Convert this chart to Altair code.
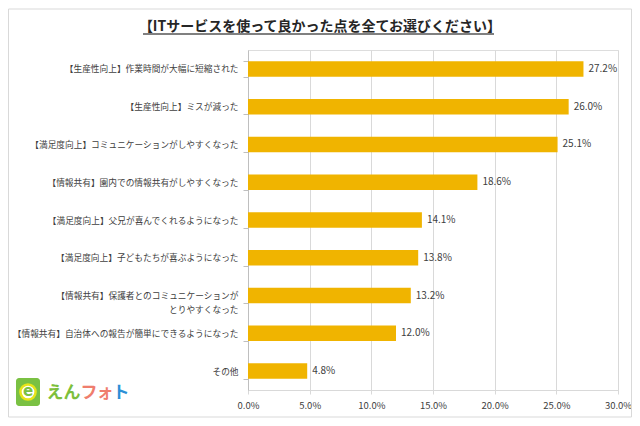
import altair as alt
import pandas as pd

title_text = "【ITサービスを使って良かった点を全てお選びください】"
categories = [
    "【生産性向上】作業時間が大幅に短縮された",
    "【生産性向上】ミスが減った",
    "【満足度向上】コミュニケーションがしやすくなった",
    "【情報共有】園内での情報共有がしやすくなった",
    "【満足度向上】父兄が喜んでくれるようになった",
    "【満足度向上】子どもたちが喜ぶようになった",
    "【情報共有】保護者とのコミュニケーションが\nとりやすくなった",
    "【情報共有】自治体への報告が簡単にできるようになった",
    "その他",
]
values = [27.2, 26.0, 25.1, 18.6, 14.1, 13.8, 13.2, 12.0, 4.8]
x_ticks = [0, 5, 10, 15, 20, 25, 30]

logo_chars = ["え", "ん", "フ", "ォ", "ト"]
logo_colors = ["#7dbf3c", "#7dbf3c", "#ef7d6d", "#ef7d6d", "#2b8fd6"]
logo_px = [-193, -176, -159, -143, -127]

JP = "Noto Sans CJK JP"
BAR = "#F0B400"

df = pd.DataFrame({"cat": categories, "val": values})

base = alt.Chart(df)

y_enc = alt.Y(
    "cat:N",
    sort=None,
    title=None,
    scale=alt.Scale(paddingInner=0.59, paddingOuter=0.295),
    axis=alt.Axis(
        labelExpr="split(datum.label, '\\n')",
        labelFont=JP,
        labelFontSize=8.7,
        labelColor="#404040",
        labelLimit=300,
        labelPadding=5,
        labelLineHeight=14,
        tickBand="extent",
        tickSize=5,
        tickColor="#bfbfbf",
        domainColor="#bfbfbf",
        grid=False,
    ),
)

x_enc = alt.X(
    "val:Q",
    title=None,
    scale=alt.Scale(domain=[0, 30], nice=False, zero=True),
    axis=alt.Axis(
        values=x_ticks,
        labelExpr="format(datum.value, '.1f') + '%'",
        labelFont=JP,
        labelFontSize=9.5,
        labelColor="#404040",
        labelPadding=6,
        tickSize=4,
        tickColor="#d9d9d9",
        domainColor="#d9d9d9",
        gridColor="#d9d9d9",
        labelFlush=False,
    ),
)

bars = base.mark_bar(color=BAR).encode(x=x_enc, y=y_enc)

labels = base.transform_calculate(
    lab="format(datum.val, '.1f') + '%'"
).mark_text(
    align="left", baseline="middle", dx=5, font=JP, fontSize=10, color="#404040"
).encode(x="val:Q", y=alt.Y("cat:N", sort=None), text="lab:N")

# decorative: outer border, title, underline, logo
one = pd.DataFrame({"t": [title_text]})
border = alt.Chart(one).mark_rect(
    fillOpacity=0, stroke="#d9d9d9", strokeWidth=1
).encode(
    x=alt.value(-239.5), x2=alt.value(383.5), y=alt.value(-41), y2=alt.value(367)
)
title = alt.Chart(one).mark_text(
    font=JP, fontSize=14, fontWeight="bold", color="#262626", baseline="middle"
).encode(x=alt.value(72), y=alt.value(-23), text="t:N")
underline = alt.Chart(one).mark_rule(color="#808080", strokeWidth=2).encode(
    x=alt.value(-105), x2=alt.value(246), y=alt.value(-16)
)

icon = alt.Chart(one).mark_rect(color="#7ac143", cornerRadius=3).encode(
    x=alt.value(-232), x2=alt.value(-208), y=alt.value(328), y2=alt.value(356)
)
ring = alt.Chart(one).mark_point(
    shape="circle", filled=True, fill="white", stroke="#e8e41a", strokeWidth=2.5, size=230, opacity=1
).encode(x=alt.value(-220), y=alt.value(342))
e_txt = alt.Chart(pd.DataFrame({"t": ["e"]})).mark_text(
    font="DejaVu Sans", fontSize=15, fontWeight="bold", color="#7ac143", baseline="middle"
).encode(x=alt.value(-220), y=alt.value(341), text="t:N")

logo_df = pd.DataFrame({"c": logo_chars, "col": logo_colors, "px": logo_px})
logo = alt.Chart(logo_df).mark_text(
    font=JP, fontSize=17, fontWeight="bold", baseline="middle"
).encode(
    x=alt.X("px:Q", scale=None),
    y=alt.value(343),
    text="c:N",
    color=alt.Color("col:N", scale=None),
)

chart = alt.layer(
    bars, labels, border, title, underline, icon, ring, e_txt, logo
).properties(
    width=370,
    height=340,
    autosize=alt.AutoSizeParams(type="none"),
    padding={"left": 240, "top": 42, "right": 14, "bottom": 28},
).configure_view(stroke="#d9d9d9").configure(background="white")

chart.save("out.html", embed_options={"renderer": "svg", "actions": False})
